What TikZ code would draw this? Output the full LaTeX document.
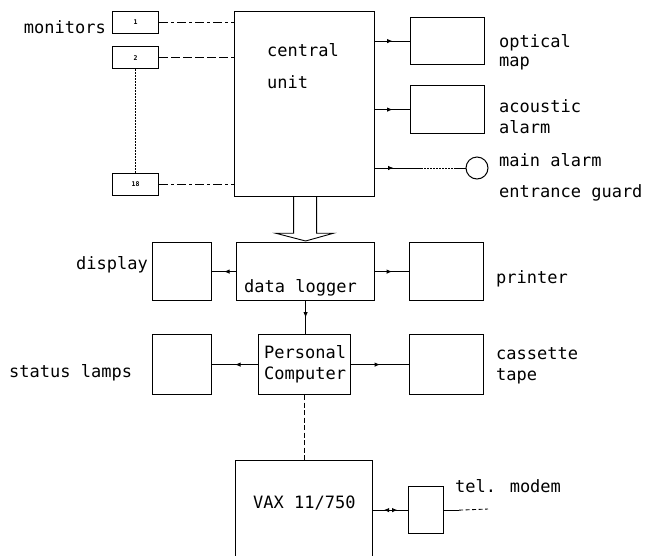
\documentclass[tikz,border=0pt]{standalone}
\usepackage{fontspec}
\setmainfont{DejaVu Sans Mono}
\usetikzlibrary{calc, arrows.meta, decorations.markings}
\tikzset{
  unit/.style={draw, line width=1.2pt, inner sep=0pt, anchor=north west},
  wire/.style={line width=0.9pt},
  lbl/.style={anchor=base west, inner sep=0pt, font=\fontsize{17}{20}\selectfont},
  mondash/.style={dash pattern=on 9pt off 3pt on 3pt off 3pt},
  monlong/.style={dash pattern=on 9pt off 3pt},
  dotline/.style={dash pattern=on 1.5pt off 1.5pt},
  midarrow/.style={decoration={markings, mark=at position #1 with {\arrow{Latex[length=5.5pt,width=4.5pt]}}}, postaction={decorate}},
  midarrow/.default=0.5,
  twoway/.style={decoration={markings,
      mark=at position 0.3 with {\arrowreversed{Latex[length=5.5pt,width=4.5pt]}},
      mark=at position 0.7 with {\arrow{Latex[length=5.5pt,width=4.5pt]}}}, postaction={decorate}},
}
\begin{document}
\begin{tikzpicture}[x=1pt, y=-1pt]
  \useasboundingbox (0,0) rectangle (648,555);
  \clip (0,0) rectangle (648,555);
  % boxes
  \foreach \nm/\x/\y/\w/\h in {cu/234/11/140/185, om/410/17/74/47, aa/410/85/74/48,
      disp/152/242/59/58, dl/236/242/138/58, prn/409/242/74/58,
      sl/152/334/59/60, pc/258/334/92/60, ct/409/334/74/60,
      modem/408/486/35/47, vax/235/460/137/110}
    \node[unit, minimum width=\w pt, minimum height=\h pt] (\nm) at (\x,\y) {};
  \node[draw, circle, line width=1pt, minimum size=22pt, inner sep=0pt] (ma) at (477,168) {};
  % monitors
  \foreach \n/\y/\sty in {1/11/mondash, 2/46/monlong, 18/173/mondash} {
    \node[unit, minimum width=46pt, minimum height=22pt, font=\fontsize{6.5}{7}\selectfont\bfseries] (m\n) at (112,\y) {\n};
    \draw[wire, \sty] (m\n.east) -- (m\n.east -| cu.west);
  }
  \draw[wire, dotline] (m2.south) -- (m18.north);
  % central unit outputs
  \draw[wire, midarrow] (cu.east |- om.west) -- (om.west);
  \draw[wire, midarrow] (cu.east |- aa.west) -- (aa.west);
  \draw[wire, midarrow=0.4] (cu.east |- ma.west) -- ++(46,0) coordinate (ma1);
  \draw[wire, dotline] (ma1) -- ++(35,0) coordinate (ma2);
  \draw[wire] (ma2) -- (ma.west);
  % hollow arrow to data logger
  \draw[wire] ($(cu.south)+(-11,0)$) -- ++(0,36) -- ++(-18,0) -- ($(dl.north)+(0,-1)$)
    -- ($(cu.south)+(29,36)$) -- ++(-17,0) -- ($(cu.south)+(12,0)$);
  % data logger and computer
  \draw[wire, midarrow] (dl.west) -- (disp.east);
  \draw[wire, midarrow] (dl.east) -- (prn.west);
  \draw[wire, midarrow] (dl.south) -- (dl.south |- pc.north);
  \draw[wire, midarrow] (pc.west) -- (sl.east);
  \draw[wire, midarrow] (pc.east) -- (ct.west);
  \draw[wire, dash pattern=on 5pt off 2.5pt] (pc.south) -- (pc.south |- vax.north);
  \draw[wire, twoway] (vax.east |- modem.west) -- (modem.west);
  \coordinate (tel) at (488,509);
  \draw[wire] (modem.east) -- ++(15,0) coordinate (tel1);
  \draw[wire, dash pattern=on 4pt off 2.5pt] (tel1) -- (tel);
  % texts
  \node[lbl, anchor=base east] (tmon) at (106,33) {monitors};
  \node[lbl] (tcu1) at (267,56) {central};
  \node[lbl] (tcu2) at (267,88) {unit};
  \node[lbl] (tom1) at (499,47) {optical};
  \node[lbl] (tom2) at (499,66) {map};
  \node[lbl] (taa1) at (499,112) {acoustic};
  \node[lbl] (taa2) at (499,133) {alarm};
  \node[lbl] (tma1) at (499,166) {main alarm};
  \node[lbl] (tma2) at (499,197) {entrance guard};
  \node[lbl, anchor=base east] (tdisp) at (148,269) {display};
  \node[lbl] (tdl) at (244,292) {data logger};
  \node[lbl] (tprn) at (496,283) {printer};
  \node[lbl] (tpc1) at (264,358) {Personal};
  \node[lbl] (tpc2) at (264,379) {Computer};
  \node[lbl] (tsl) at (9,377) {status lamps};
  \node[lbl] (tct1) at (496,359) {cassette};
  \node[lbl] (tct2) at (496,380) {tape};
  \node[lbl] (tvax) at (253,508) {VAX 11/750};
  \node[lbl] (ttel) at (455,492) {tel. modem};
\end{tikzpicture}
\end{document}
